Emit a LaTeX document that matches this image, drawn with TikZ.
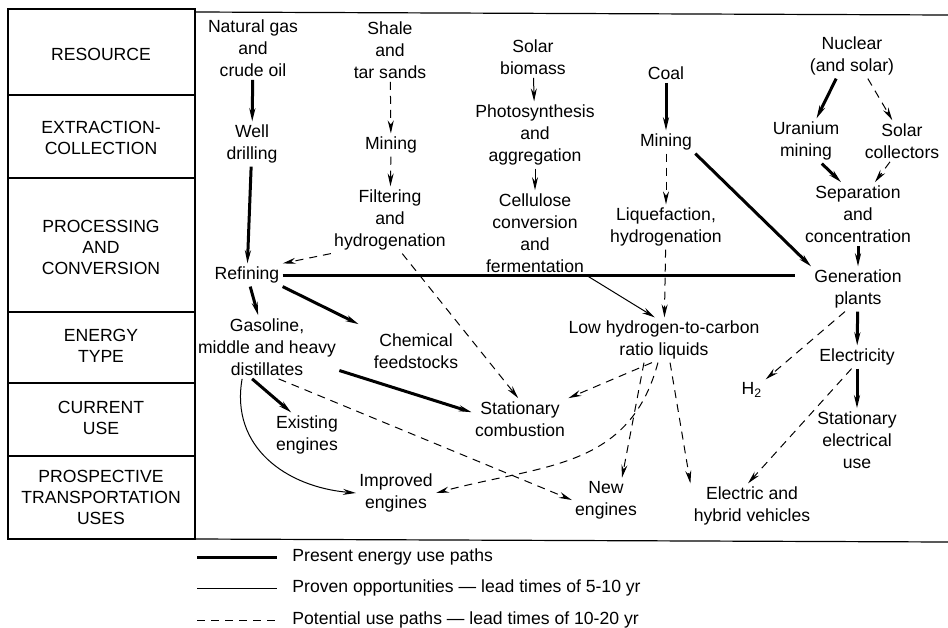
\documentclass[tikz,border=0pt]{standalone}
\usepackage{fontspec}
\setmainfont{Liberation Sans}
\usetikzlibrary{arrows.meta}

\begin{document}
\begin{tikzpicture}[x=0.5pt,y=-0.5pt,
	>={Stealth[length=6.5pt,width=3pt]},
	every node/.style={font=\fontsize{8.8}{11}\selectfont, align=center, inner sep=1.5pt},
	rowlabel/.style={font=\fontsize{8.8}{10.5}\selectfont},
	frame/.style={line width=0.6pt},
	present/.style={line width=1.5pt},
	proven/.style={line width=0.5pt},
	potential/.style={line width=0.5pt, dash pattern=on 4pt off 3pt}]
		\useasboundingbox (0,0) rectangle (948,627);
		
		% table of stages
		\draw[frame] (8,9) rectangle (195,539);
		\foreach \y in {95,178,312,383,456}
			\draw[frame] (8,\y) -- (195,\y);
		\draw[frame] (195,12) -- (948,15);
		\draw[frame] (195,539) -- (948,542);
		
		\node[rowlabel] (rresource) at (101,54) {RESOURCE};
		\node[rowlabel] (rextract) at (101,138) {EXTRACTION-\\COLLECTION};
		\node[rowlabel] (rprocess) at (101,247) {PROCESSING\\AND\\CONVERSION};
		\node[rowlabel] (rtype) at (101,346) {ENERGY\\TYPE};
		\node[rowlabel] (rcurrent) at (101,418) {CURRENT\\USE};
		\node[rowlabel] (rprospect) at (101,497) {PROSPECTIVE\\TRANSPORTATION\\USES};
		
		% resources and paths
		\node (gas) at (253,48) {Natural gas\\and\\crude oil};
		\node (well) at (252,144) {Well\\drilling};
		\node (refining) at (247,275) {Refining};
		\node (gasoline) at (267,347) {Gasoline,\\middle and heavy\\distillates};
		\node (chemical) at (416,351) {Chemical\\feedstocks};
		\node (existing) at (307,435) {Existing\\engines};
		\node (improved) at (396,493) {Improved\\engines};
		\node (statcomb) at (520,419) {Stationary\\combustion};
		
		\node (shale) at (390,50) {Shale\\and\\tar sands};
		\node (mining) at (391,145) {Mining};
		\node (filtering) at (390,220) {Filtering\\and\\hydrogenation};
		
		\node (biomass) at (533,57) {Solar\\biomass};
		\node (photo) at (535,135) {Photosynthesis\\and\\aggregation};
		\node (cellulose) at (535,233) {Cellulose\\conversion\\and\\fermentation};
		
		\node (coal) at (666,73) {Coal};
		\node (coalmining) at (666,142) {Mining};
		\node (liquefaction) at (666,227) {Liquefaction,\\hydrogenation};
		\node (lowh) at (664,340) {Low hydrogen-to-carbon\\ratio liquids};
		\node (newengines) at (606,500) {New\\engines};
		\node (vehicles) at (752,506) {Electric and\\hybrid vehicles};
		
		\node (nuclear) at (852,56) {Nuclear\\(and solar)};
		\node (uranium) at (806,141) {Uranium\\mining};
		\node (collectors) at (902,141) {Solar\\collectors};
		\node (separation) at (858,214) {Separation\\and\\concentration};
		\node (generation) at (858,289) {Generation\\plants};
		\node (electricity) at (857,357) {Electricity};
		\node (hydrogen) at (752,390) {H\textsubscript{2}};
		\node (statelec) at (857,440) {Stationary\\electrical\\use};
		
		% present energy use paths
		\draw[present, ->] (gas) -- (well);
		\draw[present, ->] (well) -- (refining);
		\draw[present, ->] (refining) -- (gasoline);
		\draw[present, ->] (refining.south east) -- ([xshift=-6pt,yshift=3pt]chemical.north west);
		\draw[present, ->] (gasoline.-115) -- (existing.125);
		\draw[present, ->] (gasoline.-18) -- (statcomb.172);
		\draw[present, ->] (coal) -- (coalmining);
		\draw[present, ->] (coalmining.south east) -- (generation.north west);
		\draw[present, shorten >=8pt] (refining.east) -- (refining.east -| generation.west);
		\draw[present, ->] (nuclear.-125) -- (uranium.65);
		\draw[present, ->] (uranium.-55) -- (separation.118);
		\draw[present, ->] (separation) -- (generation);
		\draw[present, ->] (generation) -- (electricity);
		\draw[present, ->] (electricity) -- (statelec);
		
		% proven opportunities
		\draw[proven, ->] (biomass) -- (photo);
		\draw[proven, ->] (photo) -- (cellulose);
		\draw[proven, ->] (cellulose.south east) -- (lowh.112);
		\draw[proven, ->] (gasoline.-128) to[out=-100, in=175, looseness=1.1] (improved.west);
		
		% potential use paths
		\draw[potential, ->] (shale) -- (mining);
		\draw[potential, ->] (mining) -- (filtering);
		\draw[potential, ->] (filtering.south west) -- (refining.north east);
		\draw[potential, ->] (filtering.-70) -- (statcomb.95);
		\draw[potential, ->] (gasoline.-70) -- (newengines.west);
		\draw[potential, ->] (coalmining) -- (liquefaction);
		\draw[potential, ->] (liquefaction) -- (lowh);
		\draw[potential, ->] (lowh.-118) -- (statcomb.north east);
		\draw[potential, ->] (lowh.-105) to[out=-105, in=15, looseness=1.1] (improved.east);
		\draw[potential, ->] ([xshift=-10pt]lowh.south) -- ([xshift=8pt]newengines.north);
		\draw[potential, ->] (lowh.-75) -- (vehicles.north west);
		\draw[potential, ->] (nuclear.-55) -- (collectors.115);
		\draw[potential, ->] (collectors.-120) -- (separation.62);
		\draw[potential, ->] (generation.-120) -- (hydrogen.north east);
		\draw[potential, ->] (electricity.-115) -- (vehicles.100);
		
		% key
		\coordinate (k1) at (197,557);
		\coordinate (k2) at (197,588);
		\coordinate (k3) at (197,620);
		\draw[present] (k1) -- ++(80,0);
		\draw[proven] (k2) -- ++(80,0);
		\draw[potential] (k3) -- ++(80,0);
		\node[anchor=west] (kpresent) at (289,557) {Present energy use paths};
		\node[anchor=west] (kproven) at (289,588) {Proven opportunities --- lead times of 5-10 yr};
		\node[anchor=west] (kpotential) at (289,620) {Potential use paths --- lead times of 10-20 yr};
\end{tikzpicture}
\end{document}
